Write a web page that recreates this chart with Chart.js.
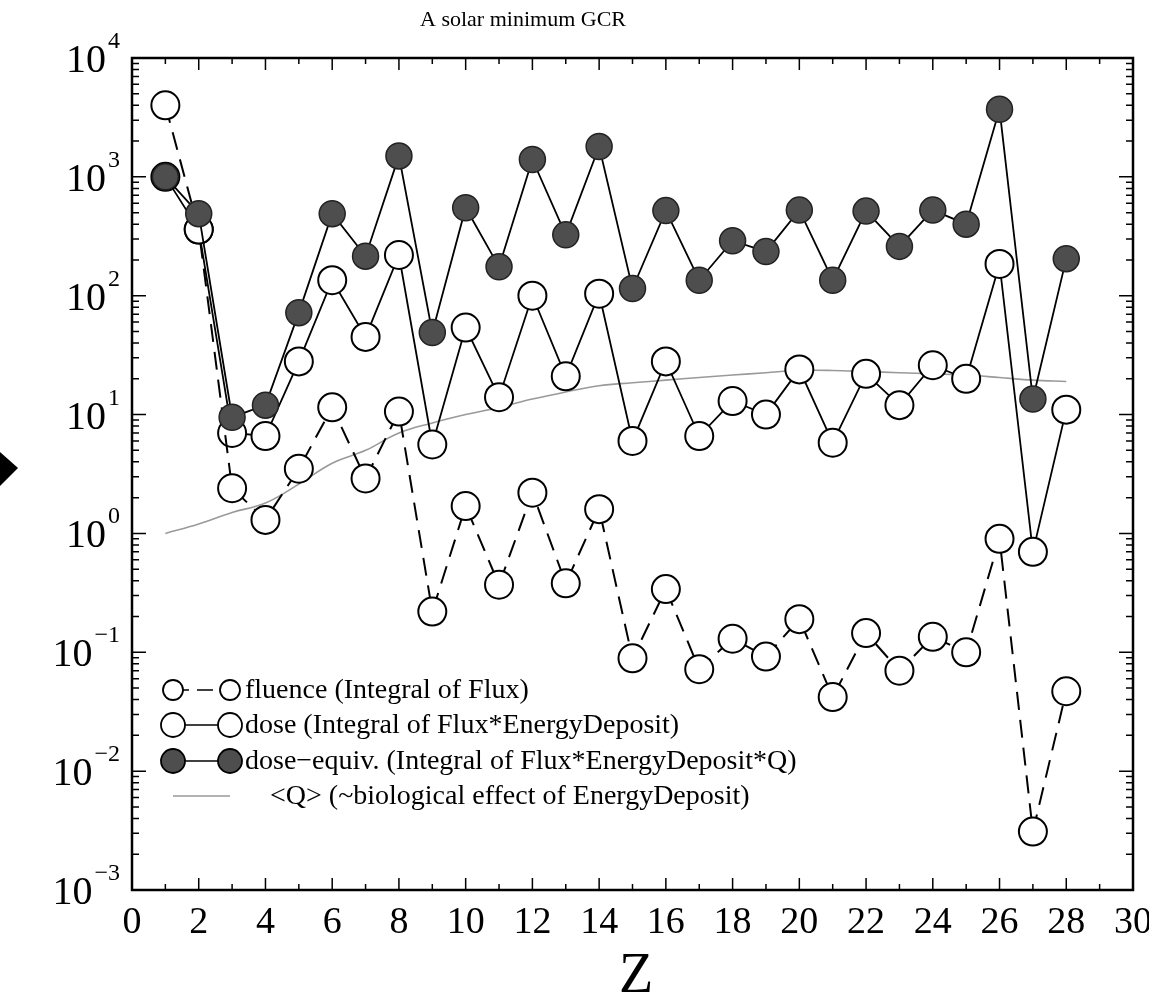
<!DOCTYPE html>
<html>
<head>
<meta charset="utf-8">
<script src="https://cdn.jsdelivr.net/npm/chart.js@4/dist/chart.umd.min.js"></script>
<style>
  body { margin: 0; background: #fff; }
  canvas { display: block; }
</style>
</head>
<body>
<canvas id="gcrChart" width="1149" height="1005"></canvas>
<script>
// Z values and series
const charges = [1, 2, 3, 4, 5, 6, 7, 8, 9, 10, 11, 12, 13, 14, 15, 16, 17, 18, 19, 20, 21, 22, 23, 24, 25, 26, 27, 28];
const fluence = [4000, 360, 2.4, 1.3, 3.5, 11.5, 2.9, 10.6, 0.22, 1.7, 0.37, 2.2, 0.38, 1.6, 0.089, 0.34, 0.072, 0.13, 0.092, 0.19, 0.042, 0.145, 0.07, 0.135, 0.1, 0.9, 0.0031, 0.047];
const dose = [1000, 360, 7, 6.6, 28, 135, 45, 220, 5.6, 54, 14, 100, 21, 104, 6, 28, 6.6, 13, 10, 24, 5.8, 22, 12, 26, 20, 185, 0.7, 11];
const doseEquiv = [1000, 490, 9.5, 12, 72, 490, 215, 1500, 49, 550, 175, 1400, 325, 1800, 115, 520, 135, 290, 235, 525, 135, 515, 260, 525, 400, 3700, 13.5, 205];
const qualityFactor = [1.0, 1.2, 1.5, 1.8, 2.6, 3.9, 5, 7, 8.5, 10, 11.5, 13.5, 15.5, 17.5, 18.5, 19.5, 20.5, 21.5, 22.5, 23.5, 23.5, 23, 22.5, 22, 21.5, 20.5, 19.5, 19];
const xTicks = [0, 2, 4, 6, 8, 10, 12, 14, 16, 18, 20, 22, 24, 26, 28, 30];
const yExponents = [4, 3, 2, 1, 0, -1, -2, -3];
const legendLabels = [
  'fluence (Integral of Flux)',
  'dose (Integral of Flux*EnergyDeposit)',
  'dose\u2212equiv. (Integral of Flux*EnergyDeposit*Q)',
  '<Q> (~biological effect of EnergyDeposit)'
];

const toPoints = values => charges.map((z, i) => ({ x: z, y: values[i] }));
const SERIF = '"Liberation Serif", "DejaVu Serif", serif';
const GREY_FILL = '#4e4e4e';

// axes, ticks, labels, legend are drawn by hand to match the print style
const decorations = {
  id: 'decorations',
  afterDraw(chart) {
    const { ctx, chartArea: a } = chart;
    const xs = chart.scales.x, ys = chart.scales.y;
    ctx.save();
    ctx.strokeStyle = '#000';
    ctx.fillStyle = '#000';
    ctx.lineWidth = 2.5;
    ctx.strokeRect(a.left, a.top, a.right - a.left, a.bottom - a.top);

    ctx.lineWidth = 1.5;
    // x ticks on top and bottom
    for (let v = 0; v <= 30; v++) {
      const px = xs.getPixelForValue(v);
      const len = v % 2 === 0 ? 12 : 6;
      ctx.beginPath();
      ctx.moveTo(px, a.bottom); ctx.lineTo(px, a.bottom - len);
      ctx.moveTo(px, a.top); ctx.lineTo(px, a.top + len);
      ctx.stroke();
    }
    // y ticks, major and minor, on both sides
    for (let e = -3; e < 4; e++) {
      for (let m = 1; m < 10; m++) {
        const py = ys.getPixelForValue(m * Math.pow(10, e));
        const len = m === 1 ? 14 : 7;
        ctx.beginPath();
        ctx.moveTo(a.left, py); ctx.lineTo(a.left + len, py);
        ctx.moveTo(a.right, py); ctx.lineTo(a.right - len, py);
        ctx.stroke();
      }
    }

    // x tick labels
    ctx.font = '38px ' + SERIF;
    ctx.textAlign = 'center';
    ctx.textBaseline = 'top';
    xTicks.forEach(v => ctx.fillText(String(v), xs.getPixelForValue(v), a.bottom + 14));

    // y tick labels 10^n
    yExponents.forEach(e => {
      const py = ys.getPixelForValue(Math.pow(10, e));
      const exp = e < 0 ? '\u2212' + (-e) : String(e);
      ctx.font = '24px ' + SERIF;
      const ew = ctx.measureText(exp).width;
      ctx.textAlign = 'left';
      ctx.textBaseline = 'alphabetic';
      ctx.fillText(exp, a.left - 12 - ew, py - 10);
      ctx.font = '40px ' + SERIF;
      ctx.textAlign = 'right';
      ctx.fillText('10', a.left - 14 - ew, py + 14);
    });

    // axis title and chart title
    ctx.textAlign = 'center';
    ctx.textBaseline = 'alphabetic';
    ctx.font = '56px ' + SERIF;
    ctx.fillText('Z', 636, 992);
    ctx.font = '22px ' + SERIF;
    ctx.fillText('A solar minimum GCR', 523, 26);

    // arrow at the left edge
    ctx.beginPath();
    ctx.moveTo(0, 452); ctx.lineTo(18, 468); ctx.lineTo(0, 486);
    ctx.closePath();
    ctx.fill();

    // legend
    const rows = [690, 725, 761, 796];
    const x0 = 173, x1 = 230;
    ctx.font = '28px ' + SERIF;
    ctx.textAlign = 'left';
    ctx.textBaseline = 'middle';
    rows.forEach((ry, i) => {
      ctx.strokeStyle = i === 3 ? '#999' : '#000';
      ctx.lineWidth = 1.5;
      ctx.setLineDash(i === 0 ? [16, 8] : []);
      ctx.beginPath(); ctx.moveTo(x0, ry); ctx.lineTo(x1, ry); ctx.stroke();
      ctx.setLineDash([]);
      if (i < 3) {
        [x0, x1].forEach(cx => {
          const r = i === 0 ? 10 : 12;
          ctx.beginPath();
          ctx.arc(cx, ry, r, 0, Math.PI * 2);
          ctx.fillStyle = i === 2 ? GREY_FILL : '#fff';
          ctx.fill();
          ctx.strokeStyle = '#000';
          ctx.lineWidth = 1.8;
          ctx.stroke();
        });
      }
      ctx.fillStyle = '#000';
      ctx.fillText(legendLabels[i], i === 3 ? 270 : 245, ry + 1);
    });
    ctx.restore();
  }
};

const gcrCtx = document.getElementById('gcrChart').getContext('2d');
const gcrChart = new Chart(gcrCtx, {
  type: 'line',
  data: {
    datasets: [
      {
        label: legendLabels[0],
        data: toPoints(fluence),
        borderColor: '#000',
        borderWidth: 2,
        borderDash: [18, 10],
        pointRadius: 14,
        pointBackgroundColor: '#fff',
        pointBorderColor: '#000',
        pointBorderWidth: 2,
        order: 2
      },
      {
        label: legendLabels[1],
        data: toPoints(dose),
        borderColor: '#000',
        borderWidth: 1.8,
        pointRadius: 14,
        pointBackgroundColor: '#fff',
        pointBorderColor: '#000',
        pointBorderWidth: 2,
        order: 3
      },
      {
        label: legendLabels[2],
        data: toPoints(doseEquiv),
        borderColor: '#000',
        borderWidth: 1.8,
        pointRadius: 13,
        pointBackgroundColor: GREY_FILL,
        pointBorderColor: '#222',
        pointBorderWidth: 1.5,
        order: 1
      },
      {
        label: legendLabels[3],
        data: toPoints(qualityFactor),
        borderColor: '#9a9a9a',
        borderWidth: 1.6,
        pointRadius: 0,
        tension: 0.4,
        order: 4
      }
    ]
  },
  options: {
    responsive: false,
    animation: false,
    layout: { padding: { left: 132, right: 9, top: 58, bottom: 115 } },
    plugins: {
      legend: { display: false },
      title: { display: false },
      tooltip: { enabled: false }
    },
    scales: {
      x: {
        type: 'linear',
        min: 0,
        max: 30,
        grid: { display: false, drawTicks: false },
        border: { display: false },
        ticks: { display: false }
      },
      y: {
        type: 'logarithmic',
        min: 0.001,
        max: 10000,
        grid: { display: false, drawTicks: false },
        border: { display: false },
        ticks: { display: false }
      }
    }
  },
  plugins: [decorations]
});
</script>
</body>
</html>
